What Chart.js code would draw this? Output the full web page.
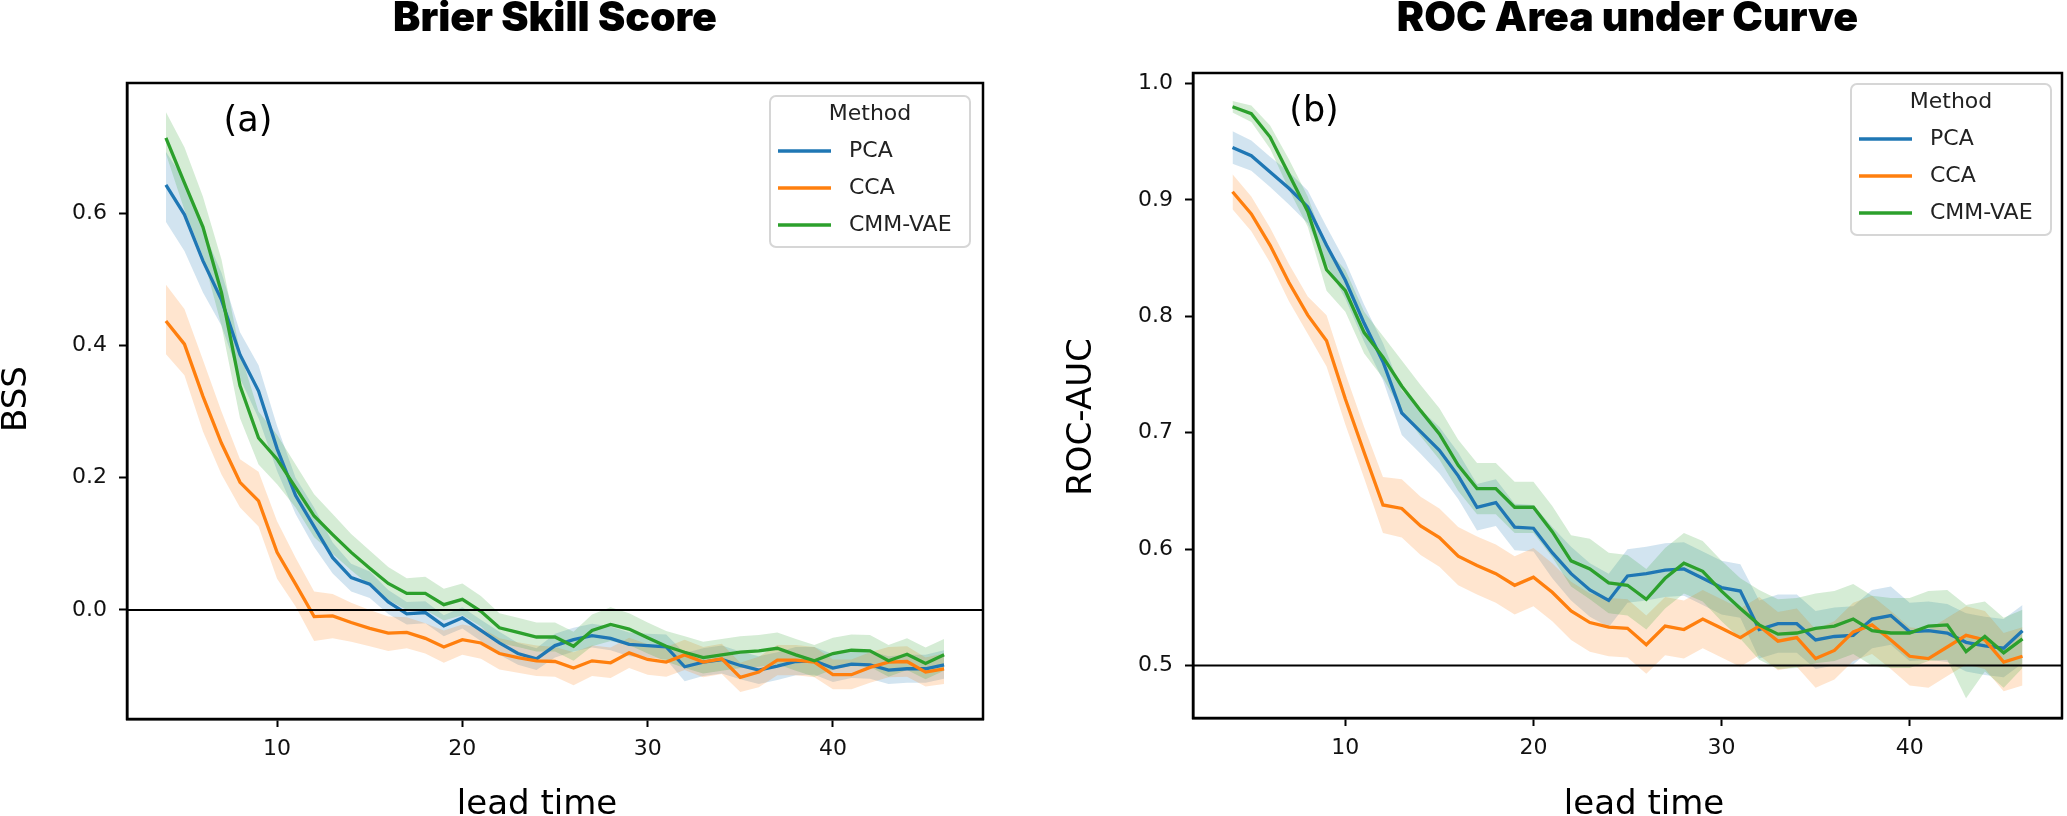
<!DOCTYPE html>
<html>
<head>
<meta charset="utf-8">
<script src="https://cdn.jsdelivr.net/npm/chart.js@4.4.1/dist/chart.umd.min.js"></script>
<style>
  html, body { margin: 0; padding: 0; background: #fff; }
  body { width: 2067px; height: 816px; position: relative; overflow: hidden; }
  .panel { position: absolute; top: 0; height: 816px; }
  #wrapA { left: 0; width: 1010px; }
  #wrapB { left: 1040px; width: 1027px; }
</style>
</head>
<body>
<div class="panel" id="wrapA"><canvas id="bss"></canvas></div>
<div class="panel" id="wrapB"><canvas id="auc"></canvas></div>
<script>
const leadTime = [4,5,6,7,8,9,10,11,12,13,14,15,16,17,18,19,20,21,22,23,24,25,26,27,28,29,30,31,32,33,34,35,36,37,38,39,40,41,42,43,44,45,46];

// (a) Brier Skill Score
const bssPCA   = [0.643,0.598,0.528,0.469,0.386,0.331,0.244,0.173,0.126,0.079,0.049,0.039,0.012,-0.006,-0.004,-0.024,-0.012,-0.031,-0.050,-0.066,-0.074,-0.054,-0.045,-0.039,-0.043,-0.052,-0.054,-0.056,-0.086,-0.079,-0.075,-0.084,-0.091,-0.085,-0.078,-0.077,-0.088,-0.082,-0.083,-0.091,-0.089,-0.089,-0.083];
const bssPCALo = [0.587,0.543,0.480,0.430,0.350,0.290,0.210,0.145,0.095,0.055,0.028,0.018,-0.006,-0.022,-0.020,-0.040,-0.028,-0.047,-0.068,-0.083,-0.091,-0.072,-0.063,-0.057,-0.061,-0.070,-0.072,-0.075,-0.108,-0.100,-0.096,-0.105,-0.112,-0.106,-0.099,-0.098,-0.109,-0.103,-0.104,-0.112,-0.110,-0.110,-0.104];
const bssPCAHi = [0.693,0.650,0.575,0.510,0.420,0.370,0.278,0.200,0.155,0.102,0.070,0.058,0.030,0.012,0.013,-0.008,0.004,-0.015,-0.033,-0.050,-0.058,-0.036,-0.027,-0.021,-0.025,-0.034,-0.036,-0.037,-0.065,-0.058,-0.054,-0.063,-0.070,-0.064,-0.056,-0.056,-0.067,-0.061,-0.062,-0.070,-0.068,-0.068,-0.061];
const bssCCA   = [0.437,0.402,0.323,0.252,0.193,0.165,0.087,0.039,-0.010,-0.009,-0.019,-0.028,-0.035,-0.034,-0.043,-0.056,-0.045,-0.050,-0.066,-0.072,-0.077,-0.078,-0.088,-0.077,-0.080,-0.065,-0.075,-0.079,-0.068,-0.079,-0.074,-0.102,-0.094,-0.076,-0.076,-0.079,-0.098,-0.098,-0.087,-0.079,-0.078,-0.094,-0.089];
const bssCCALo = [0.387,0.355,0.270,0.205,0.155,0.126,0.047,0.005,-0.047,-0.043,-0.048,-0.055,-0.062,-0.058,-0.066,-0.080,-0.068,-0.074,-0.090,-0.095,-0.100,-0.101,-0.114,-0.100,-0.103,-0.088,-0.098,-0.101,-0.091,-0.102,-0.097,-0.124,-0.117,-0.099,-0.099,-0.102,-0.120,-0.120,-0.110,-0.102,-0.101,-0.116,-0.112];
const bssCCAHi = [0.492,0.455,0.378,0.300,0.228,0.209,0.134,0.079,0.028,0.024,0.011,0.000,-0.010,-0.011,-0.020,-0.031,-0.022,-0.027,-0.043,-0.049,-0.054,-0.056,-0.064,-0.054,-0.057,-0.042,-0.052,-0.056,-0.045,-0.056,-0.051,-0.080,-0.071,-0.053,-0.053,-0.056,-0.075,-0.075,-0.064,-0.056,-0.055,-0.072,-0.066];
const bssCMM   = [0.714,0.646,0.579,0.480,0.339,0.260,0.228,0.185,0.142,0.114,0.087,0.063,0.040,0.025,0.025,0.008,0.016,-0.002,-0.027,-0.034,-0.041,-0.041,-0.055,-0.031,-0.022,-0.029,-0.042,-0.055,-0.064,-0.072,-0.068,-0.064,-0.062,-0.058,-0.068,-0.077,-0.066,-0.061,-0.062,-0.077,-0.067,-0.081,-0.068];
const bssCMMLo = [0.690,0.605,0.535,0.430,0.290,0.220,0.190,0.155,0.110,0.085,0.060,0.037,0.015,0.000,0.000,-0.016,-0.008,-0.025,-0.050,-0.056,-0.063,-0.063,-0.077,-0.055,-0.047,-0.053,-0.066,-0.078,-0.088,-0.096,-0.092,-0.088,-0.086,-0.082,-0.092,-0.101,-0.090,-0.085,-0.086,-0.101,-0.091,-0.105,-0.092];
const bssCMMHi = [0.753,0.700,0.625,0.530,0.390,0.300,0.265,0.220,0.175,0.145,0.115,0.090,0.065,0.048,0.050,0.032,0.040,0.021,-0.005,-0.012,-0.019,-0.019,-0.033,-0.007,0.004,-0.005,-0.019,-0.032,-0.040,-0.048,-0.044,-0.040,-0.038,-0.034,-0.044,-0.053,-0.042,-0.037,-0.038,-0.053,-0.043,-0.057,-0.044];

// (b) ROC area under curve
const aucPCA   = [0.945,0.938,0.924,0.910,0.894,0.861,0.831,0.794,0.761,0.717,0.701,0.685,0.663,0.636,0.640,0.619,0.618,0.597,0.579,0.565,0.556,0.577,0.579,0.582,0.583,0.575,0.567,0.564,0.531,0.536,0.536,0.522,0.525,0.526,0.540,0.543,0.529,0.530,0.528,0.520,0.517,0.515,0.530];
const aucPCALo = [0.931,0.925,0.911,0.896,0.880,0.845,0.815,0.778,0.745,0.698,0.682,0.665,0.643,0.616,0.620,0.599,0.598,0.575,0.556,0.542,0.533,0.554,0.556,0.559,0.560,0.552,0.544,0.541,0.506,0.511,0.511,0.497,0.500,0.501,0.515,0.518,0.504,0.505,0.503,0.495,0.492,0.490,0.502];
const aucPCAHi = [0.959,0.951,0.937,0.924,0.908,0.877,0.847,0.810,0.777,0.736,0.720,0.705,0.683,0.656,0.660,0.639,0.638,0.619,0.602,0.588,0.579,0.600,0.602,0.605,0.606,0.598,0.590,0.587,0.556,0.561,0.561,0.547,0.550,0.551,0.565,0.568,0.554,0.555,0.553,0.545,0.542,0.540,0.552];
const aucCCA   = [0.907,0.888,0.861,0.829,0.801,0.779,0.729,0.683,0.638,0.635,0.620,0.610,0.594,0.586,0.579,0.569,0.576,0.563,0.547,0.537,0.533,0.532,0.518,0.534,0.531,0.540,0.532,0.524,0.534,0.521,0.524,0.506,0.513,0.529,0.535,0.522,0.508,0.506,0.516,0.526,0.522,0.503,0.508];
const aucCCALo = [0.892,0.873,0.846,0.813,0.785,0.757,0.707,0.661,0.614,0.610,0.595,0.585,0.569,0.561,0.554,0.544,0.551,0.538,0.522,0.512,0.508,0.507,0.493,0.509,0.506,0.515,0.507,0.499,0.509,0.496,0.499,0.481,0.488,0.504,0.510,0.497,0.483,0.481,0.491,0.501,0.497,0.478,0.483];
const aucCCAHi = [0.922,0.903,0.876,0.845,0.817,0.801,0.751,0.705,0.662,0.660,0.645,0.635,0.619,0.611,0.604,0.594,0.601,0.588,0.572,0.562,0.558,0.557,0.543,0.559,0.556,0.565,0.557,0.549,0.559,0.546,0.549,0.531,0.538,0.554,0.560,0.547,0.533,0.531,0.541,0.551,0.547,0.528,0.533];
const aucCMM   = [0.980,0.974,0.954,0.922,0.890,0.840,0.822,0.786,0.765,0.740,0.719,0.699,0.672,0.652,0.652,0.636,0.636,0.615,0.590,0.583,0.571,0.569,0.557,0.575,0.588,0.581,0.564,0.549,0.535,0.527,0.528,0.532,0.534,0.540,0.530,0.528,0.528,0.534,0.535,0.512,0.525,0.511,0.523];
const aucCMMLo = [0.975,0.967,0.944,0.909,0.877,0.822,0.804,0.768,0.747,0.718,0.697,0.677,0.650,0.630,0.630,0.614,0.614,0.593,0.568,0.557,0.545,0.543,0.531,0.549,0.562,0.555,0.538,0.523,0.505,0.497,0.498,0.502,0.504,0.510,0.500,0.498,0.498,0.504,0.505,0.472,0.495,0.481,0.498];
const aucCMMHi = [0.985,0.981,0.964,0.935,0.903,0.858,0.840,0.804,0.783,0.762,0.741,0.721,0.694,0.674,0.674,0.658,0.658,0.637,0.612,0.609,0.597,0.595,0.583,0.601,0.614,0.607,0.590,0.575,0.565,0.557,0.558,0.562,0.564,0.570,0.560,0.558,0.558,0.564,0.565,0.552,0.555,0.541,0.548];

const xTicks = [10, 20, 30, 40];
const methodNames = ['PCA', 'CCA', 'CMM-VAE'];
const methodColors = ['#1f77b4', '#ff7f0e', '#2ca02c'];

const TICK_FONT = { family: '"DejaVu Sans", sans-serif', size: 22 };
const TITLE_FONT = '900 41px Inter, "Liberation Sans", sans-serif';

function rgba(hex, a) {
  const n = parseInt(hex.slice(1), 16);
  return `rgba(${(n >> 16) & 255},${(n >> 8) & 255},${n & 255},${a})`;
}

function pts(ys) {
  return leadTime.map((x, i) => ({ x: x, y: ys[i] }));
}

// bands first (under everything), then the three mean lines
function buildDatasets(series) {
  const ds = [];
  series.forEach((s, k) => {
    ds.push({ label: methodNames[k] + ' lo', band: true, data: pts(s.lo), borderColor: 'transparent',
              borderWidth: 0, pointRadius: 0, fill: false, order: 6 - k });
    ds.push({ label: methodNames[k] + ' hi', band: true, data: pts(s.hi), borderColor: 'transparent',
              borderWidth: 0, pointRadius: 0, fill: '-1', backgroundColor: rgba(methodColors[k], 0.2), order: 6 - k });
  });
  series.forEach((s, k) => {
    ds.push({ label: methodNames[k], data: pts(s.mean), borderColor: methodColors[k], borderWidth: 3.3,
              pointRadius: 0, fill: false, tension: 0, order: 3 - k });
  });
  return ds;
}

// title, frame, reference line, panel letter, axis titles, legend
const panelDecor = {
  id: 'panelDecor',
  afterDatasetsDraw(chart, args, o) {
    const { ctx, chartArea: a } = chart;
    const y = chart.scales.y;
    ctx.save();
    ctx.fillStyle = '#000';
    ctx.textAlign = 'center';
    ctx.textBaseline = 'middle';
    ctx.font = TITLE_FONT;
    ctx.fillText(o.title, (a.left + a.right) / 2, 19);

    const yy = y.getPixelForValue(o.refValue);
    ctx.strokeStyle = '#000';
    ctx.lineWidth = 2;
    ctx.beginPath(); ctx.moveTo(a.left, yy); ctx.lineTo(a.right, yy); ctx.stroke();

    ctx.lineWidth = 2.5;
    ctx.strokeRect(a.left, a.top, a.right - a.left, a.bottom - a.top);

    ctx.font = '35px "DejaVu Sans"';
    ctx.fillText(o.letter, a.left + 121, a.top + 39);

    ctx.font = o.yLabel.size + 'px "DejaVu Sans"';
    ctx.save();
    ctx.translate(o.yLabel.x, o.yLabel.y);
    ctx.rotate(-Math.PI / 2);
    ctx.fillText(o.yLabel.text, 0, 0);
    ctx.restore();

    ctx.font = o.xLabel.size + 'px "DejaVu Sans"';
    ctx.textBaseline = 'alphabetic';
    ctx.fillText(o.xLabel.text, o.xLabel.x, o.xLabel.y);

    // legend box
    const w = 200, h = 151;
    const lx = a.right - o.legendMargin - w, ly = a.top + o.legendMargin;
    ctx.beginPath();
    ctx.roundRect(lx, ly, w, h, 6);
    ctx.fillStyle = 'rgba(255,255,255,0.8)';
    ctx.fill();
    ctx.strokeStyle = '#d6d6d6';
    ctx.lineWidth = 2;
    ctx.stroke();

    ctx.font = '22px "DejaVu Sans"';
    ctx.fillStyle = '#222';
    ctx.textBaseline = 'middle';
    ctx.textAlign = 'center';
    ctx.fillText('Method', lx + w / 2, ly + 18);
    ctx.textAlign = 'left';
    chart.data.datasets.filter(d => !d.band).forEach((d, i) => {
      const ry = ly + 55 + i * 37;
      ctx.strokeStyle = d.borderColor;
      ctx.lineWidth = 3.3;
      ctx.beginPath(); ctx.moveTo(lx + 8, ry); ctx.lineTo(lx + 61, ry); ctx.stroke();
      ctx.fillText(d.label, lx + 79, ry);
    });
    ctx.restore();
  }
};

function makeChart(id, cfg) {
  const axisGrid = { drawOnChartArea: false, drawTicks: true, tickLength: 8, tickWidth: 2, tickColor: '#000' };
  return new Chart(document.getElementById(id), {
    type: 'line',
    data: { datasets: buildDatasets(cfg.series) },
    plugins: [panelDecor],
    options: {
      responsive: true,
      maintainAspectRatio: false,
      animation: false,
      layout: { padding: { left: 0, right: cfg.padRight, top: cfg.padTop, bottom: 0 } },
      plugins: {
        legend: { display: false },
        tooltip: { enabled: false },
        title: { display: false },
        panelDecor: cfg.decor
      },
      scales: {
        x: {
          type: 'linear', min: 1.9, max: 48.1, bounds: 'data',
          grid: axisGrid,
          border: { display: true, color: '#000', width: 2.5 },
          afterBuildTicks: s => { s.ticks = xTicks.map(v => ({ value: v })); },
          ticks: { font: TICK_FONT, color: '#111', padding: 9, maxRotation: 0, callback: v => String(v) },
          afterFit: s => { s.height = cfg.xHeight; s.paddingLeft = 0; s.paddingRight = 0; }
        },
        y: {
          type: 'linear', min: cfg.yMin, max: cfg.yMax, bounds: 'data',
          grid: axisGrid,
          border: { display: true, color: '#000', width: 2.5 },
          afterBuildTicks: s => { s.ticks = cfg.yTicks.map(v => ({ value: v })); },
          ticks: { font: TICK_FONT, color: '#111', padding: 12, callback: v => v.toFixed(1) },
          afterFit: s => { s.width = cfg.yWidth; s.paddingTop = 0; s.paddingBottom = 0; }
        }
      }
    }
  });
}

makeChart('bss', {
  series: [
    { mean: bssPCA, lo: bssPCALo, hi: bssPCAHi },
    { mean: bssCCA, lo: bssCCALo, hi: bssCCAHi },
    { mean: bssCMM, lo: bssCMMLo, hi: bssCMMHi }
  ],
  yMin: -0.165, yMax: 0.797, yTicks: [0.0, 0.2, 0.4, 0.6],
  yWidth: 127, xHeight: 97, padRight: 27, padTop: 83,
  decor: {
    title: 'Brier Skill Score',
    refValue: 0, letter: '(a)', legendMargin: 13,
    yLabel: { text: 'BSS', x: 17, y: 399, size: 34 },
    xLabel: { text: 'lead time', x: 537, y: 814, size: 34 }
  }
});

makeChart('auc', {
  series: [
    { mean: aucPCA, lo: aucPCALo, hi: aucPCAHi },
    { mean: aucCCA, lo: aucCCALo, hi: aucCCAHi },
    { mean: aucCMM, lo: aucCMMLo, hi: aucCMMHi }
  ],
  yMin: 0.455, yMax: 1.009, yTicks: [0.5, 0.6, 0.7, 0.8, 0.9, 1.0],
  yWidth: 153, xHeight: 98, padRight: 5, padTop: 73,
  decor: {
    title: 'ROC Area under Curve',
    refValue: 0.5, letter: '(b)', legendMargin: 11,
    yLabel: { text: 'ROC-AUC', x: 42, y: 417, size: 34 },
    xLabel: { text: 'lead time', x: 604, y: 814, size: 34 }
  }
});
</script>
</body>
</html>
